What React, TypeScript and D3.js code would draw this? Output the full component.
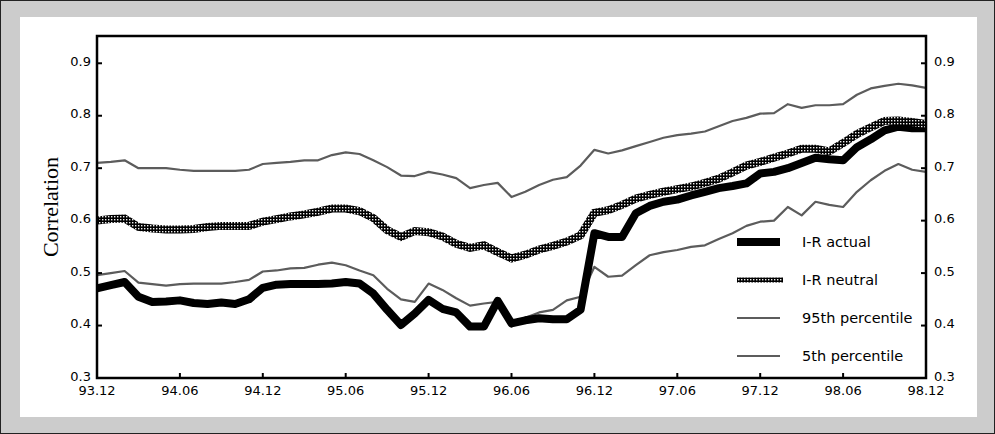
import React from "react";
import * as d3 from "d3";

// Monthly observations, 93.12 through 98.12 (61 months)
const months: string[] = [
  "93.12","94.01","94.02","94.03","94.04","94.05","94.06","94.07","94.08","94.09","94.10","94.11",
  "94.12","95.01","95.02","95.03","95.04","95.05","95.06","95.07","95.08","95.09","95.10","95.11",
  "95.12","96.01","96.02","96.03","96.04","96.05","96.06","96.07","96.08","96.09","96.10","96.11",
  "96.12","97.01","97.02","97.03","97.04","97.05","97.06","97.07","97.08","97.09","97.10","97.11",
  "97.12","98.01","98.02","98.03","98.04","98.05","98.06","98.07","98.08","98.09","98.10","98.11",
  "98.12",
];

const irActual: number[] = [
  0.471, 0.477, 0.483, 0.455, 0.445, 0.446, 0.448, 0.443, 0.441, 0.444, 0.441, 0.450,
  0.472, 0.478, 0.479, 0.479, 0.479, 0.480, 0.483, 0.480, 0.461, 0.430, 0.401, 0.423,
  0.449, 0.432, 0.425, 0.398, 0.398, 0.447, 0.404, 0.410, 0.414, 0.412, 0.412, 0.430,
  0.576, 0.569, 0.569, 0.614, 0.628, 0.636, 0.640, 0.648, 0.655, 0.662, 0.666, 0.671,
  0.690, 0.693, 0.700, 0.710, 0.720, 0.717, 0.715, 0.740, 0.755, 0.772, 0.779, 0.776,
  0.776,
];

const irNeutral: number[] = [
  0.600, 0.603, 0.604, 0.588, 0.585, 0.583, 0.583, 0.584, 0.588, 0.590, 0.590, 0.590,
  0.598, 0.603, 0.608, 0.612, 0.617, 0.623, 0.623, 0.618, 0.605, 0.582, 0.569, 0.580,
  0.578, 0.570, 0.556, 0.548, 0.553, 0.540, 0.528, 0.535, 0.545, 0.552, 0.560, 0.572,
  0.615, 0.620, 0.630, 0.642, 0.649, 0.655, 0.660, 0.665, 0.672, 0.680, 0.692, 0.705,
  0.712, 0.720, 0.728, 0.737, 0.737, 0.732, 0.748, 0.765, 0.778, 0.790, 0.791, 0.788,
  0.784,
];

const pct95: number[] = [
  0.710, 0.712, 0.715, 0.700, 0.700, 0.700, 0.697, 0.695, 0.695, 0.695, 0.695, 0.697,
  0.708, 0.710, 0.712, 0.715, 0.715, 0.725, 0.730, 0.727, 0.715, 0.702, 0.686, 0.685,
  0.693, 0.688, 0.681, 0.662, 0.668, 0.672, 0.645, 0.655, 0.668, 0.678, 0.683, 0.705,
  0.735, 0.728, 0.734, 0.742, 0.750, 0.758, 0.763, 0.766, 0.770, 0.780, 0.790, 0.796,
  0.804, 0.805, 0.822, 0.815, 0.820, 0.820, 0.822, 0.840, 0.852, 0.857, 0.861, 0.858,
  0.853,
];

const pct5: number[] = [
  0.496, 0.500, 0.504, 0.482, 0.479, 0.476, 0.479, 0.480, 0.480, 0.480, 0.483, 0.487,
  0.503, 0.505, 0.509, 0.510, 0.516, 0.520, 0.515, 0.505, 0.496, 0.470, 0.450, 0.445,
  0.480, 0.468, 0.452, 0.438, 0.442, 0.445, 0.398, 0.415, 0.425, 0.430, 0.448, 0.455,
  0.512, 0.493, 0.495, 0.515, 0.534, 0.540, 0.544, 0.550, 0.553, 0.565, 0.576, 0.590,
  0.598, 0.600, 0.626, 0.610, 0.636, 0.630, 0.626, 0.655, 0.677, 0.695, 0.708, 0.697,
  0.693,
];

const xTickLabels: string[] = ["93.12","94.06","94.12","95.06","95.12","96.06","96.12","97.06","97.12","98.06","98.12"];
const yTicks: number[] = [0.3, 0.4, 0.5, 0.6, 0.7, 0.8, 0.9];
const legendLabels: string[] = ["I-R actual", "I-R neutral", "95th percentile", "5th percentile"];

const W = 995;
const H = 434;
const plot = { left: 97, right: 926, top: 36, bottom: 378 };

export default function App() {
  const x = d3.scaleLinear().domain([0, months.length - 1]).range([plot.left, plot.right]);
  const y = d3.scaleLinear().domain([0.3, 0.952]).range([plot.bottom, plot.top]);

  const line = d3
    .line<number>()
    .x((_, i) => x(i))
    .y((v) => y(v))
    .curve(d3.curveLinear);

  const thin = "#5c5c5c";
  const tickFont = "DejaVu Sans, Verdana, sans-serif";

  const legendRows = [242, 280, 318, 356];

  return (
    <svg
      width={W}
      height={H}
      style={{ position: "absolute", left: 0, top: 0, display: "block" }}
    >
      <defs>
        <pattern id="checks" width="3" height="3" patternUnits="userSpaceOnUse">
          <rect width="3" height="3" fill="#000" />
          <rect x="0" y="0" width="1.4" height="1.4" fill="#f0f0f0" />
        </pattern>
        <clipPath id="plotClip">
          <rect x={plot.left} y={plot.top} width={plot.right - plot.left} height={plot.bottom - plot.top} />
        </clipPath>
      </defs>

      {/* outer frame */}
      <rect x={0.5} y={0.5} width={W - 1} height={H - 1} fill="#cccccc" stroke="#222" strokeWidth={1} />
      <rect x={20} y={17} width={957} height={400} fill="#ffffff" />

      {/* series */}
      <g clipPath="url(#plotClip)">
        <path d={line(pct95) ?? ""} fill="none" stroke={thin} strokeWidth={2.2} strokeLinejoin="round" />
        <path d={line(pct5) ?? ""} fill="none" stroke={thin} strokeWidth={2.2} strokeLinejoin="round" />
        <path d={line(irActual) ?? ""} fill="none" stroke="#000" strokeWidth={8} strokeLinejoin="round" />
        <path d={line(irNeutral) ?? ""} fill="none" stroke="url(#checks)" strokeWidth={8} strokeLinejoin="miter" />
      </g>

      {/* plot frame */}
      <rect
        x={plot.left}
        y={plot.top}
        width={plot.right - plot.left}
        height={plot.bottom - plot.top}
        fill="none"
        stroke="#000"
        strokeWidth={2.5}
      />

      {/* y ticks, both sides */}
      {yTicks.map((t) => (
        <g key={t}>
          <line x1={plot.left} x2={plot.left + 5} y1={y(t)} y2={y(t)} stroke="#000" strokeWidth={2} />
          <line x1={plot.right - 5} x2={plot.right} y1={y(t)} y2={y(t)} stroke="#000" strokeWidth={2} />
          <text x={plot.left - 6} y={y(t) - 2} dy="0.35em" textAnchor="end" fontFamily={tickFont} fontSize={13} fill="#000">
            {t.toFixed(1)}
          </text>
          <text x={plot.right + 8} y={y(t) - 2} dy="0.35em" textAnchor="start" fontFamily={tickFont} fontSize={13} fill="#000">
            {t.toFixed(1)}
          </text>
        </g>
      ))}

      {/* x ticks */}
      {xTickLabels.map((lab) => {
        const i = months.indexOf(lab);
        return (
          <g key={lab}>
            <line x1={x(i)} x2={x(i)} y1={plot.bottom} y2={plot.bottom - 5} stroke="#000" strokeWidth={2} />
            <text x={x(i)} y={plot.bottom + 17} textAnchor="middle" fontFamily={tickFont} fontSize={13} fill="#000">
              {lab}
            </text>
          </g>
        );
      })}

      {/* y axis title */}
      <text
        transform={`translate(58,${207}) rotate(-90)`}
        textAnchor="middle"
        fontFamily="Liberation Serif, Times New Roman, serif"
        fontSize={22}
        fill="#000"
      >
        Correlation
      </text>

      {/* legend */}
      <g>
        <line x1={737} x2={780} y1={legendRows[0]} y2={legendRows[0]} stroke="#000" strokeWidth={8} />
        <line x1={737} x2={783} y1={legendRows[1]} y2={legendRows[1]} stroke="url(#checks)" strokeWidth={5} />
        <line x1={737} x2={780} y1={legendRows[2]} y2={legendRows[2]} stroke={thin} strokeWidth={2.2} />
        <line x1={737} x2={780} y1={legendRows[3]} y2={legendRows[3]} stroke={thin} strokeWidth={2.2} />
        {legendLabels.map((lab, k) => (
          <text key={lab} x={802} y={legendRows[k]} dy="0.35em" fontFamily={tickFont} fontSize={14.5} fill="#000">
            {lab}
          </text>
        ))}
      </g>
    </svg>
  );
}
